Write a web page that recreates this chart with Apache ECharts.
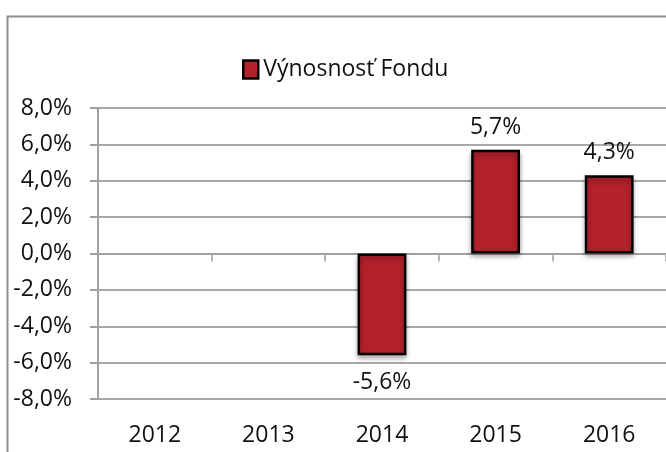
<!DOCTYPE html>
<html>
<head>
<meta charset="utf-8">
<script src="https://cdn.jsdelivr.net/npm/echarts@6/dist/echarts.min.js"></script>
<style>html,body{margin:0;padding:0;background:#fff;}#c{width:666px;height:452px;}</style>
</head>
<body>
<div id="c"></div>
<script>
const categories = ['2012', '2013', '2014', '2015', '2016'];
const seriesName = 'Výnosnosť Fondu';
const values = [null, null, -5.6, 5.7, 4.3];
const yMin = -8, yMax = 8, yStep = 2;

const FONT = 'Open Sans';
const FS = 23;
const fmt = v => v.toFixed(1).replace('.', ',') + '%';

const chart = echarts.init(document.getElementById('c'));
chart.setOption({
  animation: false,
  textStyle: { fontFamily: FONT },
  graphic: [{
    type: 'rect', silent: true, z: -1,
    shape: { x: 7.5, y: 16.5, width: 720, height: 520 },
    style: { fill: 'none', stroke: '#8f8f8f', lineWidth: 2 }
  }],
  legend: {
    left: 237, top: 53,
    icon: 'rect',
    itemWidth: 15, itemHeight: 18, itemGap: 10,
    data: [seriesName],
    itemStyle: { borderColor: '#000', borderWidth: 2.5 },
    textStyle: { fontFamily: FONT, fontSize: FS, color: '#111', padding: [0, 0, 0, 0] }
  },
  grid: { left: 98, top: 108, width: 569, height: 291, containLabel: false },
  xAxis: [{
    type: 'category', data: categories, position: 'bottom',
    axisLine: { onZero: true, lineStyle: { color: '#a0a0a0', width: 2 } },
    axisTick: { show: true, alignWithLabel: false, length: 8, lineStyle: { color: '#a0a0a0', width: 1.5 } },
    axisLabel: { show: false },
    splitLine: { show: false }
  }, {
    type: 'category', data: categories, position: 'bottom',
    axisLine: { show: false, onZero: false },
    axisTick: { show: false },
    axisLabel: { show: true, margin: 25, fontFamily: FONT, fontSize: FS, color: '#111' }
  }],
  yAxis: {
    type: 'value', min: yMin, max: yMax, interval: yStep,
    axisLine: { show: true, lineStyle: { color: '#a0a0a0', width: 2 } },
    axisTick: { show: true, length: 8, lineStyle: { color: '#a0a0a0', width: 2 } },
    splitLine: { show: true, lineStyle: { color: '#a8a8a8', width: 2 } },
    axisLabel: { margin: 26, fontFamily: FONT, fontSize: FS, color: '#111', formatter: v => fmt(v) }
  },
  series: [{
    name: seriesName, type: 'bar', xAxisIndex: 0,
    data: values.map(v => v === null ? null : {
      value: v,
      label: { position: v >= 0 ? 'top' : 'bottom', distance: v >= 0 ? 11 : 16 }
    }),
    barWidth: '43%',
    itemStyle: {
      color: '#B3212A', borderColor: '#000', borderWidth: 2.5,
      shadowColor: 'rgba(0,0,0,0.35)', shadowBlur: 5, shadowOffsetY: 3
    },
    label: {
      show: true, fontFamily: FONT, fontSize: FS, color: '#111',
      formatter: p => fmt(p.value)
    }
  }]
});
</script>
</body>
</html>
